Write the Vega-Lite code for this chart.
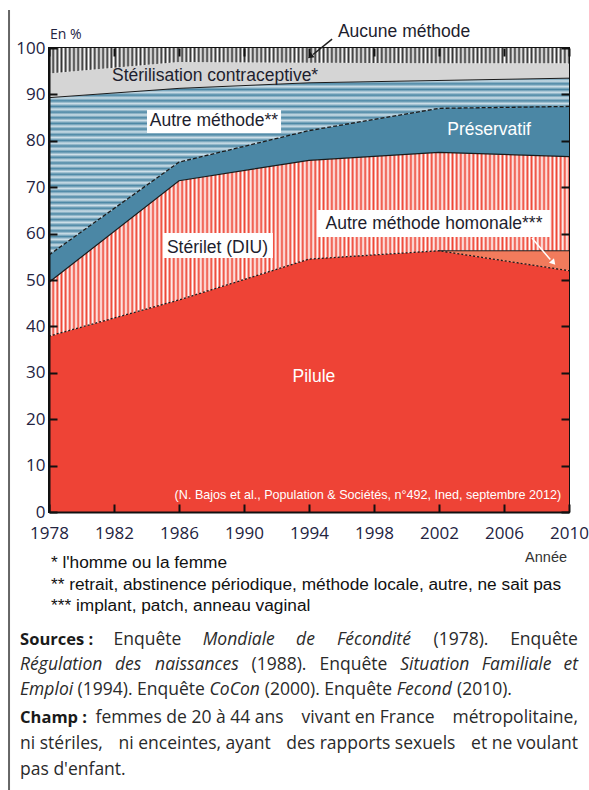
{
"$schema":"https://vega.github.io/schema/vega-lite/v6.json",
"width":520,"height":464,"autosize":"none",
"padding":{"left":49,"top":48,"right":20,"bottom":278},
"background":"white",
"config":{"view":{"stroke":"#111","strokeWidth":2},"text":{"font":"Liberation Sans"}},
"datasets":{"d":[
{"annee":1978,"methode":"Pilule","k":1,"pct":37.9},
{"annee":1978,"methode":"Autre méthode hormonale","k":2,"pct":0},
{"annee":1978,"methode":"Stérilet (DIU)","k":3,"pct":11.6},
{"annee":1978,"methode":"Préservatif","k":4,"pct":5.9},
{"annee":1978,"methode":"Autre méthode","k":5,"pct":33.9},
{"annee":1978,"methode":"Stérilisation contraceptive","k":6,"pct":5.2},
{"annee":1978,"methode":"Aucune méthode","k":7,"pct":5.5},
{"annee":1986,"methode":"Pilule","k":1,"pct":45.7},
{"annee":1986,"methode":"Autre méthode hormonale","k":2,"pct":0},
{"annee":1986,"methode":"Stérilet (DIU)","k":3,"pct":25.7},
{"annee":1986,"methode":"Préservatif","k":4,"pct":4.0},
{"annee":1986,"methode":"Autre méthode","k":5,"pct":15.9},
{"annee":1986,"methode":"Stérilisation contraceptive","k":6,"pct":5.7},
{"annee":1986,"methode":"Aucune méthode","k":7,"pct":3.0},
{"annee":1994,"methode":"Pilule","k":1,"pct":54.5},
{"annee":1994,"methode":"Autre méthode hormonale","k":2,"pct":0},
{"annee":1994,"methode":"Stérilet (DIU)","k":3,"pct":21.3},
{"annee":1994,"methode":"Préservatif","k":4,"pct":6.4},
{"annee":1994,"methode":"Autre méthode","k":5,"pct":10.3},
{"annee":1994,"methode":"Stérilisation contraceptive","k":6,"pct":4.3},
{"annee":1994,"methode":"Aucune méthode","k":7,"pct":3.2},
{"annee":2002,"methode":"Pilule","k":1,"pct":56.3},
{"annee":2002,"methode":"Autre méthode hormonale","k":2,"pct":0},
{"annee":2002,"methode":"Stérilet (DIU)","k":3,"pct":21.2},
{"annee":2002,"methode":"Préservatif","k":4,"pct":9.5},
{"annee":2002,"methode":"Autre méthode","k":5,"pct":6.0},
{"annee":2002,"methode":"Stérilisation contraceptive","k":6,"pct":3.7},
{"annee":2002,"methode":"Aucune méthode","k":7,"pct":3.3},
{"annee":2010,"methode":"Pilule","k":1,"pct":52.0},
{"annee":2010,"methode":"Autre méthode hormonale","k":2,"pct":4.3},
{"annee":2010,"methode":"Stérilet (DIU)","k":3,"pct":20.3},
{"annee":2010,"methode":"Préservatif","k":4,"pct":10.8},
{"annee":2010,"methode":"Autre méthode","k":5,"pct":6.1},
{"annee":2010,"methode":"Stérilisation contraceptive","k":6,"pct":3.2},
{"annee":2010,"methode":"Aucune méthode","k":7,"pct":3.3}
]},
"resolve":{"axis":{"x":"independent","y":"independent"}},
"layer":[
{"data":{"name":"d"},
 "transform":[{"stack":"pct","groupby":["annee"],"sort":[{"field":"k","order":"ascending"}],"as":["y0","y1"]}],
 "encoding":{"x":{"field":"annee","type":"quantitative","scale":{"domain":[1978,2010],"nice":false,"zero":false},"axis":null},
             "y":{"field":"y1","type":"quantitative","scale":{"domain":[0,100],"nice":false},"axis":null}},
 "layer":[
  {"transform":[{"filter":"datum.k==1"}],"mark":{"type":"area","fill":"#ee4336"},"encoding":{"y2":{"field":"y0"}}},
  {"transform":[{"filter":"datum.k==2"}],"mark":{"type":"area","fill":"#f27b5c"},"encoding":{"y2":{"field":"y0"}}},
  {"transform":[{"filter":"datum.k==3"}],"mark":{"type":"area","fill":{"gradient":"linear","x1":0,"y1":0,"x2":1,"y2":0,"stops":[
{"offset":0.000,"color":"#e43"},{"offset":0.004,"color":"#fff"},{"offset":0.008,"color":"#e43"},{"offset":0.012,"color":"#fff"},{"offset":0.016,"color":"#e43"},{"offset":0.020,"color":"#fff"},{"offset":0.024,"color":"#e43"},{"offset":0.028,"color":"#fff"},{"offset":0.032,"color":"#e43"},{"offset":0.036,"color":"#fff"},{"offset":0.040,"color":"#e43"},{"offset":0.044,"color":"#fff"},{"offset":0.048,"color":"#e43"},{"offset":0.052,"color":"#fff"},{"offset":0.056,"color":"#e43"},{"offset":0.060,"color":"#fff"},{"offset":0.064,"color":"#e43"},{"offset":0.068,"color":"#fff"},{"offset":0.072,"color":"#e43"},{"offset":0.076,"color":"#fff"},{"offset":0.080,"color":"#e43"},{"offset":0.084,"color":"#fff"},{"offset":0.088,"color":"#e43"},{"offset":0.092,"color":"#fff"},{"offset":0.096,"color":"#e43"},
{"offset":0.100,"color":"#fff"},{"offset":0.104,"color":"#e43"},{"offset":0.108,"color":"#fff"},{"offset":0.112,"color":"#e43"},{"offset":0.116,"color":"#fff"},{"offset":0.120,"color":"#e43"},{"offset":0.124,"color":"#fff"},{"offset":0.128,"color":"#e43"},{"offset":0.132,"color":"#fff"},{"offset":0.136,"color":"#e43"},{"offset":0.140,"color":"#fff"},{"offset":0.144,"color":"#e43"},{"offset":0.148,"color":"#fff"},{"offset":0.152,"color":"#e43"},{"offset":0.156,"color":"#fff"},{"offset":0.160,"color":"#e43"},{"offset":0.164,"color":"#fff"},{"offset":0.168,"color":"#e43"},{"offset":0.172,"color":"#fff"},{"offset":0.176,"color":"#e43"},{"offset":0.180,"color":"#fff"},{"offset":0.184,"color":"#e43"},{"offset":0.188,"color":"#fff"},{"offset":0.192,"color":"#e43"},{"offset":0.196,"color":"#fff"},
{"offset":0.200,"color":"#e43"},{"offset":0.204,"color":"#fff"},{"offset":0.208,"color":"#e43"},{"offset":0.212,"color":"#fff"},{"offset":0.216,"color":"#e43"},{"offset":0.220,"color":"#fff"},{"offset":0.224,"color":"#e43"},{"offset":0.228,"color":"#fff"},{"offset":0.232,"color":"#e43"},{"offset":0.236,"color":"#fff"},{"offset":0.240,"color":"#e43"},{"offset":0.244,"color":"#fff"},{"offset":0.248,"color":"#e43"},{"offset":0.252,"color":"#fff"},{"offset":0.256,"color":"#e43"},{"offset":0.260,"color":"#fff"},{"offset":0.264,"color":"#e43"},{"offset":0.268,"color":"#fff"},{"offset":0.272,"color":"#e43"},{"offset":0.276,"color":"#fff"},{"offset":0.280,"color":"#e43"},{"offset":0.284,"color":"#fff"},{"offset":0.288,"color":"#e43"},{"offset":0.292,"color":"#fff"},{"offset":0.296,"color":"#e43"},
{"offset":0.300,"color":"#fff"},{"offset":0.304,"color":"#e43"},{"offset":0.308,"color":"#fff"},{"offset":0.312,"color":"#e43"},{"offset":0.316,"color":"#fff"},{"offset":0.320,"color":"#e43"},{"offset":0.324,"color":"#fff"},{"offset":0.328,"color":"#e43"},{"offset":0.332,"color":"#fff"},{"offset":0.336,"color":"#e43"},{"offset":0.340,"color":"#fff"},{"offset":0.344,"color":"#e43"},{"offset":0.348,"color":"#fff"},{"offset":0.352,"color":"#e43"},{"offset":0.356,"color":"#fff"},{"offset":0.360,"color":"#e43"},{"offset":0.364,"color":"#fff"},{"offset":0.368,"color":"#e43"},{"offset":0.372,"color":"#fff"},{"offset":0.376,"color":"#e43"},{"offset":0.380,"color":"#fff"},{"offset":0.384,"color":"#e43"},{"offset":0.388,"color":"#fff"},{"offset":0.392,"color":"#e43"},{"offset":0.396,"color":"#fff"},
{"offset":0.400,"color":"#e43"},{"offset":0.404,"color":"#fff"},{"offset":0.408,"color":"#e43"},{"offset":0.412,"color":"#fff"},{"offset":0.416,"color":"#e43"},{"offset":0.420,"color":"#fff"},{"offset":0.424,"color":"#e43"},{"offset":0.428,"color":"#fff"},{"offset":0.432,"color":"#e43"},{"offset":0.436,"color":"#fff"},{"offset":0.440,"color":"#e43"},{"offset":0.444,"color":"#fff"},{"offset":0.448,"color":"#e43"},{"offset":0.452,"color":"#fff"},{"offset":0.456,"color":"#e43"},{"offset":0.460,"color":"#fff"},{"offset":0.464,"color":"#e43"},{"offset":0.468,"color":"#fff"},{"offset":0.472,"color":"#e43"},{"offset":0.476,"color":"#fff"},{"offset":0.480,"color":"#e43"},{"offset":0.484,"color":"#fff"},{"offset":0.488,"color":"#e43"},{"offset":0.492,"color":"#fff"},{"offset":0.496,"color":"#e43"},
{"offset":0.500,"color":"#fff"},{"offset":0.504,"color":"#e43"},{"offset":0.508,"color":"#fff"},{"offset":0.512,"color":"#e43"},{"offset":0.516,"color":"#fff"},{"offset":0.520,"color":"#e43"},{"offset":0.524,"color":"#fff"},{"offset":0.528,"color":"#e43"},{"offset":0.532,"color":"#fff"},{"offset":0.536,"color":"#e43"},{"offset":0.540,"color":"#fff"},{"offset":0.544,"color":"#e43"},{"offset":0.548,"color":"#fff"},{"offset":0.552,"color":"#e43"},{"offset":0.556,"color":"#fff"},{"offset":0.560,"color":"#e43"},{"offset":0.564,"color":"#fff"},{"offset":0.568,"color":"#e43"},{"offset":0.572,"color":"#fff"},{"offset":0.576,"color":"#e43"},{"offset":0.580,"color":"#fff"},{"offset":0.584,"color":"#e43"},{"offset":0.588,"color":"#fff"},{"offset":0.592,"color":"#e43"},{"offset":0.596,"color":"#fff"},
{"offset":0.600,"color":"#e43"},{"offset":0.604,"color":"#fff"},{"offset":0.608,"color":"#e43"},{"offset":0.612,"color":"#fff"},{"offset":0.616,"color":"#e43"},{"offset":0.620,"color":"#fff"},{"offset":0.624,"color":"#e43"},{"offset":0.628,"color":"#fff"},{"offset":0.632,"color":"#e43"},{"offset":0.636,"color":"#fff"},{"offset":0.640,"color":"#e43"},{"offset":0.644,"color":"#fff"},{"offset":0.648,"color":"#e43"},{"offset":0.652,"color":"#fff"},{"offset":0.656,"color":"#e43"},{"offset":0.660,"color":"#fff"},{"offset":0.664,"color":"#e43"},{"offset":0.668,"color":"#fff"},{"offset":0.672,"color":"#e43"},{"offset":0.676,"color":"#fff"},{"offset":0.680,"color":"#e43"},{"offset":0.684,"color":"#fff"},{"offset":0.688,"color":"#e43"},{"offset":0.692,"color":"#fff"},{"offset":0.696,"color":"#e43"},
{"offset":0.700,"color":"#fff"},{"offset":0.704,"color":"#e43"},{"offset":0.708,"color":"#fff"},{"offset":0.712,"color":"#e43"},{"offset":0.716,"color":"#fff"},{"offset":0.720,"color":"#e43"},{"offset":0.724,"color":"#fff"},{"offset":0.728,"color":"#e43"},{"offset":0.732,"color":"#fff"},{"offset":0.736,"color":"#e43"},{"offset":0.740,"color":"#fff"},{"offset":0.744,"color":"#e43"},{"offset":0.748,"color":"#fff"},{"offset":0.752,"color":"#e43"},{"offset":0.756,"color":"#fff"},{"offset":0.760,"color":"#e43"},{"offset":0.764,"color":"#fff"},{"offset":0.768,"color":"#e43"},{"offset":0.772,"color":"#fff"},{"offset":0.776,"color":"#e43"},{"offset":0.780,"color":"#fff"},{"offset":0.784,"color":"#e43"},{"offset":0.788,"color":"#fff"},{"offset":0.792,"color":"#e43"},{"offset":0.796,"color":"#fff"},
{"offset":0.800,"color":"#e43"},{"offset":0.804,"color":"#fff"},{"offset":0.808,"color":"#e43"},{"offset":0.812,"color":"#fff"},{"offset":0.816,"color":"#e43"},{"offset":0.820,"color":"#fff"},{"offset":0.824,"color":"#e43"},{"offset":0.828,"color":"#fff"},{"offset":0.832,"color":"#e43"},{"offset":0.836,"color":"#fff"},{"offset":0.840,"color":"#e43"},{"offset":0.844,"color":"#fff"},{"offset":0.848,"color":"#e43"},{"offset":0.852,"color":"#fff"},{"offset":0.856,"color":"#e43"},{"offset":0.860,"color":"#fff"},{"offset":0.864,"color":"#e43"},{"offset":0.868,"color":"#fff"},{"offset":0.872,"color":"#e43"},{"offset":0.876,"color":"#fff"},{"offset":0.880,"color":"#e43"},{"offset":0.884,"color":"#fff"},{"offset":0.888,"color":"#e43"},{"offset":0.892,"color":"#fff"},{"offset":0.896,"color":"#e43"},
{"offset":0.900,"color":"#fff"},{"offset":0.904,"color":"#e43"},{"offset":0.908,"color":"#fff"},{"offset":0.912,"color":"#e43"},{"offset":0.916,"color":"#fff"},{"offset":0.920,"color":"#e43"},{"offset":0.924,"color":"#fff"},{"offset":0.928,"color":"#e43"},{"offset":0.932,"color":"#fff"},{"offset":0.936,"color":"#e43"},{"offset":0.940,"color":"#fff"},{"offset":0.944,"color":"#e43"},{"offset":0.948,"color":"#fff"},{"offset":0.952,"color":"#e43"},{"offset":0.956,"color":"#fff"},{"offset":0.960,"color":"#e43"},{"offset":0.964,"color":"#fff"},{"offset":0.968,"color":"#e43"},{"offset":0.972,"color":"#fff"},{"offset":0.976,"color":"#e43"},{"offset":0.980,"color":"#fff"},{"offset":0.984,"color":"#e43"},{"offset":0.988,"color":"#fff"},{"offset":0.992,"color":"#e43"},{"offset":0.996,"color":"#fff"},
{"offset":1,"color":"#e43"}]}},"encoding":{"y2":{"field":"y0"}}},
  {"transform":[{"filter":"datum.k==4"}],"mark":{"type":"area","fill":"#4b87a5"},"encoding":{"y2":{"field":"y0"}}},
  {"transform":[{"filter":"datum.k==5"}],"mark":{"type":"area","fill":{"gradient":"linear","x1":0,"y1":0,"x2":0,"y2":1,"stops":[
{"offset":0,"color":"#4a86a4"},{"offset":0.016,"color":"#cfe0e9"},{"offset":0.032,"color":"#4a86a4"},{"offset":0.048,"color":"#cfe0e9"},{"offset":0.064,"color":"#4a86a4"},{"offset":0.08,"color":"#cfe0e9"},{"offset":0.096,"color":"#4a86a4"},{"offset":0.112,"color":"#cfe0e9"},{"offset":0.128,"color":"#4a86a4"},{"offset":0.144,"color":"#cfe0e9"},{"offset":0.16,"color":"#4a86a4"},{"offset":0.176,"color":"#cfe0e9"},{"offset":0.192,"color":"#4a86a4"},{"offset":0.208,"color":"#cfe0e9"},{"offset":0.224,"color":"#4a86a4"},{"offset":0.24,"color":"#cfe0e9"},{"offset":0.256,"color":"#4a86a4"},{"offset":0.272,"color":"#cfe0e9"},{"offset":0.288,"color":"#4a86a4"},{"offset":0.304,"color":"#cfe0e9"},{"offset":0.32,"color":"#4a86a4"},{"offset":0.336,"color":"#cfe0e9"},{"offset":0.352,"color":"#4a86a4"},{"offset":0.368,"color":"#cfe0e9"},{"offset":0.384,"color":"#4a86a4"},{"offset":0.4,"color":"#cfe0e9"},{"offset":0.416,"color":"#4a86a4"},{"offset":0.432,"color":"#cfe0e9"},{"offset":0.448,"color":"#4a86a4"},{"offset":0.464,"color":"#cfe0e9"},{"offset":0.48,"color":"#4a86a4"},{"offset":0.496,"color":"#cfe0e9"},{"offset":0.512,"color":"#4a86a4"},{"offset":0.528,"color":"#cfe0e9"},{"offset":0.544,"color":"#4a86a4"},{"offset":0.56,"color":"#cfe0e9"},{"offset":0.576,"color":"#4a86a4"},{"offset":0.592,"color":"#cfe0e9"},{"offset":0.608,"color":"#4a86a4"},{"offset":0.624,"color":"#cfe0e9"},{"offset":0.64,"color":"#4a86a4"},{"offset":0.656,"color":"#cfe0e9"},{"offset":0.672,"color":"#4a86a4"},{"offset":0.688,"color":"#cfe0e9"},{"offset":0.704,"color":"#4a86a4"},{"offset":0.72,"color":"#cfe0e9"},{"offset":0.736,"color":"#4a86a4"},{"offset":0.752,"color":"#cfe0e9"},{"offset":0.768,"color":"#4a86a4"},{"offset":0.784,"color":"#cfe0e9"},{"offset":0.8,"color":"#4a86a4"},{"offset":0.816,"color":"#cfe0e9"},{"offset":0.832,"color":"#4a86a4"},{"offset":0.848,"color":"#cfe0e9"},{"offset":0.864,"color":"#4a86a4"},{"offset":0.88,"color":"#cfe0e9"},{"offset":0.896,"color":"#4a86a4"},{"offset":0.912,"color":"#cfe0e9"},{"offset":0.928,"color":"#4a86a4"},{"offset":0.944,"color":"#cfe0e9"},{"offset":0.96,"color":"#4a86a4"},{"offset":0.976,"color":"#cfe0e9"},{"offset":0.992,"color":"#4a86a4"},{"offset":1,"color":"#4a86a4"}]}},"encoding":{"y2":{"field":"y0"}}},
  {"transform":[{"filter":"datum.k==6"}],"mark":{"type":"area","fill":"#d5d5d5"},"encoding":{"y2":{"field":"y0"}}},
  {"transform":[{"filter":"datum.k==7"}],"mark":{"type":"area","fill":{"gradient":"linear","x1":0,"y1":0,"x2":1,"y2":0,"stops":[
{"offset":0.000,"color":"#333"},{"offset":0.004,"color":"#fff"},{"offset":0.008,"color":"#333"},{"offset":0.012,"color":"#fff"},{"offset":0.016,"color":"#333"},{"offset":0.020,"color":"#fff"},{"offset":0.024,"color":"#333"},{"offset":0.028,"color":"#fff"},{"offset":0.032,"color":"#333"},{"offset":0.036,"color":"#fff"},{"offset":0.040,"color":"#333"},{"offset":0.044,"color":"#fff"},{"offset":0.048,"color":"#333"},{"offset":0.052,"color":"#fff"},{"offset":0.056,"color":"#333"},{"offset":0.060,"color":"#fff"},{"offset":0.064,"color":"#333"},{"offset":0.068,"color":"#fff"},{"offset":0.072,"color":"#333"},{"offset":0.076,"color":"#fff"},{"offset":0.080,"color":"#333"},{"offset":0.084,"color":"#fff"},{"offset":0.088,"color":"#333"},{"offset":0.092,"color":"#fff"},{"offset":0.096,"color":"#333"},
{"offset":0.100,"color":"#fff"},{"offset":0.104,"color":"#333"},{"offset":0.108,"color":"#fff"},{"offset":0.112,"color":"#333"},{"offset":0.116,"color":"#fff"},{"offset":0.120,"color":"#333"},{"offset":0.124,"color":"#fff"},{"offset":0.128,"color":"#333"},{"offset":0.132,"color":"#fff"},{"offset":0.136,"color":"#333"},{"offset":0.140,"color":"#fff"},{"offset":0.144,"color":"#333"},{"offset":0.148,"color":"#fff"},{"offset":0.152,"color":"#333"},{"offset":0.156,"color":"#fff"},{"offset":0.160,"color":"#333"},{"offset":0.164,"color":"#fff"},{"offset":0.168,"color":"#333"},{"offset":0.172,"color":"#fff"},{"offset":0.176,"color":"#333"},{"offset":0.180,"color":"#fff"},{"offset":0.184,"color":"#333"},{"offset":0.188,"color":"#fff"},{"offset":0.192,"color":"#333"},{"offset":0.196,"color":"#fff"},
{"offset":0.200,"color":"#333"},{"offset":0.204,"color":"#fff"},{"offset":0.208,"color":"#333"},{"offset":0.212,"color":"#fff"},{"offset":0.216,"color":"#333"},{"offset":0.220,"color":"#fff"},{"offset":0.224,"color":"#333"},{"offset":0.228,"color":"#fff"},{"offset":0.232,"color":"#333"},{"offset":0.236,"color":"#fff"},{"offset":0.240,"color":"#333"},{"offset":0.244,"color":"#fff"},{"offset":0.248,"color":"#333"},{"offset":0.252,"color":"#fff"},{"offset":0.256,"color":"#333"},{"offset":0.260,"color":"#fff"},{"offset":0.264,"color":"#333"},{"offset":0.268,"color":"#fff"},{"offset":0.272,"color":"#333"},{"offset":0.276,"color":"#fff"},{"offset":0.280,"color":"#333"},{"offset":0.284,"color":"#fff"},{"offset":0.288,"color":"#333"},{"offset":0.292,"color":"#fff"},{"offset":0.296,"color":"#333"},
{"offset":0.300,"color":"#fff"},{"offset":0.304,"color":"#333"},{"offset":0.308,"color":"#fff"},{"offset":0.312,"color":"#333"},{"offset":0.316,"color":"#fff"},{"offset":0.320,"color":"#333"},{"offset":0.324,"color":"#fff"},{"offset":0.328,"color":"#333"},{"offset":0.332,"color":"#fff"},{"offset":0.336,"color":"#333"},{"offset":0.340,"color":"#fff"},{"offset":0.344,"color":"#333"},{"offset":0.348,"color":"#fff"},{"offset":0.352,"color":"#333"},{"offset":0.356,"color":"#fff"},{"offset":0.360,"color":"#333"},{"offset":0.364,"color":"#fff"},{"offset":0.368,"color":"#333"},{"offset":0.372,"color":"#fff"},{"offset":0.376,"color":"#333"},{"offset":0.380,"color":"#fff"},{"offset":0.384,"color":"#333"},{"offset":0.388,"color":"#fff"},{"offset":0.392,"color":"#333"},{"offset":0.396,"color":"#fff"},
{"offset":0.400,"color":"#333"},{"offset":0.404,"color":"#fff"},{"offset":0.408,"color":"#333"},{"offset":0.412,"color":"#fff"},{"offset":0.416,"color":"#333"},{"offset":0.420,"color":"#fff"},{"offset":0.424,"color":"#333"},{"offset":0.428,"color":"#fff"},{"offset":0.432,"color":"#333"},{"offset":0.436,"color":"#fff"},{"offset":0.440,"color":"#333"},{"offset":0.444,"color":"#fff"},{"offset":0.448,"color":"#333"},{"offset":0.452,"color":"#fff"},{"offset":0.456,"color":"#333"},{"offset":0.460,"color":"#fff"},{"offset":0.464,"color":"#333"},{"offset":0.468,"color":"#fff"},{"offset":0.472,"color":"#333"},{"offset":0.476,"color":"#fff"},{"offset":0.480,"color":"#333"},{"offset":0.484,"color":"#fff"},{"offset":0.488,"color":"#333"},{"offset":0.492,"color":"#fff"},{"offset":0.496,"color":"#333"},
{"offset":0.500,"color":"#fff"},{"offset":0.504,"color":"#333"},{"offset":0.508,"color":"#fff"},{"offset":0.512,"color":"#333"},{"offset":0.516,"color":"#fff"},{"offset":0.520,"color":"#333"},{"offset":0.524,"color":"#fff"},{"offset":0.528,"color":"#333"},{"offset":0.532,"color":"#fff"},{"offset":0.536,"color":"#333"},{"offset":0.540,"color":"#fff"},{"offset":0.544,"color":"#333"},{"offset":0.548,"color":"#fff"},{"offset":0.552,"color":"#333"},{"offset":0.556,"color":"#fff"},{"offset":0.560,"color":"#333"},{"offset":0.564,"color":"#fff"},{"offset":0.568,"color":"#333"},{"offset":0.572,"color":"#fff"},{"offset":0.576,"color":"#333"},{"offset":0.580,"color":"#fff"},{"offset":0.584,"color":"#333"},{"offset":0.588,"color":"#fff"},{"offset":0.592,"color":"#333"},{"offset":0.596,"color":"#fff"},
{"offset":0.600,"color":"#333"},{"offset":0.604,"color":"#fff"},{"offset":0.608,"color":"#333"},{"offset":0.612,"color":"#fff"},{"offset":0.616,"color":"#333"},{"offset":0.620,"color":"#fff"},{"offset":0.624,"color":"#333"},{"offset":0.628,"color":"#fff"},{"offset":0.632,"color":"#333"},{"offset":0.636,"color":"#fff"},{"offset":0.640,"color":"#333"},{"offset":0.644,"color":"#fff"},{"offset":0.648,"color":"#333"},{"offset":0.652,"color":"#fff"},{"offset":0.656,"color":"#333"},{"offset":0.660,"color":"#fff"},{"offset":0.664,"color":"#333"},{"offset":0.668,"color":"#fff"},{"offset":0.672,"color":"#333"},{"offset":0.676,"color":"#fff"},{"offset":0.680,"color":"#333"},{"offset":0.684,"color":"#fff"},{"offset":0.688,"color":"#333"},{"offset":0.692,"color":"#fff"},{"offset":0.696,"color":"#333"},
{"offset":0.700,"color":"#fff"},{"offset":0.704,"color":"#333"},{"offset":0.708,"color":"#fff"},{"offset":0.712,"color":"#333"},{"offset":0.716,"color":"#fff"},{"offset":0.720,"color":"#333"},{"offset":0.724,"color":"#fff"},{"offset":0.728,"color":"#333"},{"offset":0.732,"color":"#fff"},{"offset":0.736,"color":"#333"},{"offset":0.740,"color":"#fff"},{"offset":0.744,"color":"#333"},{"offset":0.748,"color":"#fff"},{"offset":0.752,"color":"#333"},{"offset":0.756,"color":"#fff"},{"offset":0.760,"color":"#333"},{"offset":0.764,"color":"#fff"},{"offset":0.768,"color":"#333"},{"offset":0.772,"color":"#fff"},{"offset":0.776,"color":"#333"},{"offset":0.780,"color":"#fff"},{"offset":0.784,"color":"#333"},{"offset":0.788,"color":"#fff"},{"offset":0.792,"color":"#333"},{"offset":0.796,"color":"#fff"},
{"offset":0.800,"color":"#333"},{"offset":0.804,"color":"#fff"},{"offset":0.808,"color":"#333"},{"offset":0.812,"color":"#fff"},{"offset":0.816,"color":"#333"},{"offset":0.820,"color":"#fff"},{"offset":0.824,"color":"#333"},{"offset":0.828,"color":"#fff"},{"offset":0.832,"color":"#333"},{"offset":0.836,"color":"#fff"},{"offset":0.840,"color":"#333"},{"offset":0.844,"color":"#fff"},{"offset":0.848,"color":"#333"},{"offset":0.852,"color":"#fff"},{"offset":0.856,"color":"#333"},{"offset":0.860,"color":"#fff"},{"offset":0.864,"color":"#333"},{"offset":0.868,"color":"#fff"},{"offset":0.872,"color":"#333"},{"offset":0.876,"color":"#fff"},{"offset":0.880,"color":"#333"},{"offset":0.884,"color":"#fff"},{"offset":0.888,"color":"#333"},{"offset":0.892,"color":"#fff"},{"offset":0.896,"color":"#333"},
{"offset":0.900,"color":"#fff"},{"offset":0.904,"color":"#333"},{"offset":0.908,"color":"#fff"},{"offset":0.912,"color":"#333"},{"offset":0.916,"color":"#fff"},{"offset":0.920,"color":"#333"},{"offset":0.924,"color":"#fff"},{"offset":0.928,"color":"#333"},{"offset":0.932,"color":"#fff"},{"offset":0.936,"color":"#333"},{"offset":0.940,"color":"#fff"},{"offset":0.944,"color":"#333"},{"offset":0.948,"color":"#fff"},{"offset":0.952,"color":"#333"},{"offset":0.956,"color":"#fff"},{"offset":0.960,"color":"#333"},{"offset":0.964,"color":"#fff"},{"offset":0.968,"color":"#333"},{"offset":0.972,"color":"#fff"},{"offset":0.976,"color":"#333"},{"offset":0.980,"color":"#fff"},{"offset":0.984,"color":"#333"},{"offset":0.988,"color":"#fff"},{"offset":0.992,"color":"#333"},{"offset":0.996,"color":"#fff"},
{"offset":1,"color":"#333"}]}},"encoding":{"y2":{"field":"y0"}}},
  {"transform":[{"filter":"datum.k==1"}],"mark":{"type":"line","color":"#1a1a1a","strokeWidth":1.3,"strokeDash":[2,2]}},
  {"transform":[{"filter":"datum.k==2 && datum.annee>=2002"}],"mark":{"type":"line","color":"#1a1a1a","strokeWidth":1}},
  {"transform":[{"filter":"datum.k==3"}],"mark":{"type":"line","color":"#1a1a1a","strokeWidth":1.2}},
  {"transform":[{"filter":"datum.k==4"}],"mark":{"type":"line","color":"#1a1a1a","strokeWidth":1.3,"strokeDash":[4,2]}},
  {"transform":[{"filter":"datum.k==5"}],"mark":{"type":"line","color":"#1a1a1a","strokeWidth":1}}
 ]},
{"data":{"name":"d"},"mark":{"type":"point","opacity":0},
 "encoding":{"x":{"field":"annee","type":"quantitative","scale":{"domain":[1978,2010],"nice":false,"zero":false},
   "axis":{"orient":"bottom","values":[1978,1982,1986,1990,1994,1998,2002,2006,2010],"format":"d","title":null,"grid":false,"domainColor":"#111","domainWidth":2,"tickColor":"#111","tickWidth":2,"tickSize":-8,"labelFont":"Open Sans","labelFontSize":17,"labelColor":"#23233f","labelPadding":21,"labelFlush":false,"labelOverlap":false,"zindex":1}},
  "y":{"field":"pct","type":"quantitative","scale":{"domain":[0,100],"nice":false},
   "axis":{"orient":"left","values":[0,10,20,30,40,50,60,70,80,90,100],"title":null,"grid":false,"domainColor":"#111","domainWidth":2,"tickColor":"#111","tickWidth":2,"tickSize":-8,"labelFont":"Open Sans","labelFontSize":17,"labelColor":"#23233f","labelPadding":12,"labelFlush":false,"labelOverlap":false,"zindex":1}}}},
{"data":{"name":"d"},"mark":{"type":"point","opacity":0},
 "encoding":{"x":{"field":"annee","type":"quantitative","scale":{"domain":[1978,2010],"nice":false,"zero":false},
   "axis":{"orient":"top","values":[1978,1982,1986,1990,1994,1998,2002,2006,2010],"labels":false,"domain":false,"title":null,"grid":false,"tickColor":"#111","tickWidth":2,"tickSize":-8,"zindex":1}},
  "y":{"field":"pct","type":"quantitative","scale":{"domain":[0,100],"nice":false},
   "axis":{"orient":"right","values":[0,10,20,30,40,50,60,70,80,90,100],"labels":false,"domain":false,"title":null,"grid":false,"tickColor":"#111","tickWidth":2,"tickSize":-8,"zindex":1}}}},
{"data":{"values":[{}]},"mark":{"type":"rect","fill":"white"},"encoding":{"x":{"datum":1984.03,"axis":null},"x2":{"datum":1992.28},"y":{"datum":86.64,"axis":null},"y2":{"datum":81.68}}},
{"data":{"values":[{}]},"mark":{"type":"rect","fill":"white"},"encoding":{"x":{"datum":1985.02,"axis":null},"x2":{"datum":1991.78},"y":{"datum":60.13,"axis":null},"y2":{"datum":54.74}}},
{"data":{"values":[{}]},"mark":{"type":"rect","fill":"white"},"encoding":{"x":{"datum":1994.49,"axis":null},"x2":{"datum":2008.83},"y":{"datum":65.09,"axis":null},"y2":{"datum":59.27}}},
{"data":{"values":[{}]},"mark":{"type":"text","text":"Aucune méthode","align":"left","baseline":"alphabetic","fontSize":17.5,"fill":"#1e1e2e"},"encoding":{"x":{"datum":1995.78,"axis":null},"y":{"datum":102.4,"axis":null}}},
{"data":{"values":[{}]},"mark":{"type":"rule","color":"#1e1e1e","strokeWidth":1.5},"encoding":{"x":{"datum":1995.42,"axis":null},"x2":{"datum":1994.25},"y":{"datum":101.9,"axis":null},"y2":{"datum":98.6}}},
{"data":{"values":[{}]},"mark":{"type":"point","shape":"triangle","filled":true,"color":"#1e1e1e","opacity":1,"size":45,"angle":231},"encoding":{"x":{"datum":1994.12,"axis":null},"y":{"datum":98.3,"axis":null}}},
{"data":{"values":[{}]},"mark":{"type":"text","text":"Stérilisation contraceptive*","align":"center","baseline":"alphabetic","fontSize":17.5,"fill":"#1e1e2e"},"encoding":{"x":{"datum":1988.22,"axis":null},"y":{"datum":92.89,"axis":null}}},
{"data":{"values":[{}]},"mark":{"type":"text","text":"Autre méthode**","align":"center","baseline":"alphabetic","fontSize":17.5,"fill":"#1e1e2e"},"encoding":{"x":{"datum":1988.15,"axis":null},"y":{"datum":83.19,"axis":null}}},
{"data":{"values":[{}]},"mark":{"type":"text","text":"Préservatif","align":"center","baseline":"alphabetic","fontSize":17.5,"fill":"white"},"encoding":{"x":{"datum":2005.08,"axis":null},"y":{"datum":81.25,"axis":null}}},
{"data":{"values":[{}]},"mark":{"type":"text","text":"Stérilet (DIU)","align":"center","baseline":"alphabetic","fontSize":17.5,"fill":"#1e1e2e"},"encoding":{"x":{"datum":1988.37,"axis":null},"y":{"datum":55.88,"axis":null}}},
{"data":{"values":[{}]},"mark":{"type":"text","text":"Autre méthode homonale***","align":"center","baseline":"alphabetic","fontSize":17.5,"fill":"#1e1e2e"},"encoding":{"x":{"datum":2001.69,"axis":null},"y":{"datum":60.93,"axis":null}}},
{"data":{"values":[{}]},"mark":{"type":"rule","color":"white","strokeWidth":1.5},"encoding":{"x":{"datum":2007.72,"axis":null},"x2":{"datum":2008.85},"y":{"datum":59.05,"axis":null},"y2":{"datum":54.4}}},
{"data":{"values":[{}]},"mark":{"type":"point","shape":"triangle","filled":true,"color":"white","opacity":1,"size":45,"angle":139},"encoding":{"x":{"datum":2009.0,"axis":null},"y":{"datum":53.9,"axis":null}}},
{"data":{"values":[{}]},"mark":{"type":"text","text":"Pilule","align":"center","baseline":"middle","fontSize":17.5,"fill":"white"},"encoding":{"x":{"datum":1994.3,"axis":null},"y":{"datum":29.0,"axis":null}}},
{"data":{"values":[{}]},"mark":{"type":"text","text":"(N. Bajos et al., Population & Sociétés, n°492, Ined, septembre 2012)","align":"right","baseline":"alphabetic","fontSize":12.6,"fill":"white"},"encoding":{"x":{"datum":2009.52,"axis":null},"y":{"datum":2.8,"axis":null}}},
{"data":{"values":[{}]},"mark":{"type":"text","text":"En %","align":"left","baseline":"middle","font":"Open Sans","fontSize":14,"fill":"#23233f"},"encoding":{"x":{"datum":1978.06,"axis":null},"y":{"datum":102.8,"axis":null}}},
{"data":{"values":[{}]},"mark":{"type":"text","text":"Année","align":"right","baseline":"middle","fontSize":14.5,"fill":"#333"},"encoding":{"x":{"datum":2009.88,"axis":null},"y":{"datum":-9.91,"axis":null}}},
{"data":{"values":[{}]},"mark":{"type":"text","text":"* l'homme ou la femme","align":"left","baseline":"middle","fontSize":17.3,"fill":"#111"},"encoding":{"x":{"datum":1978.12,"axis":null},"y":{"datum":-10.99,"axis":null}}},
{"data":{"values":[{}]},"mark":{"type":"text","text":"** retrait, abstinence périodique, méthode locale, autre, ne sait pas","align":"left","baseline":"middle","fontSize":17.3,"fill":"#111"},"encoding":{"x":{"datum":1978.12,"axis":null},"y":{"datum":-15.73,"axis":null}}},
{"data":{"values":[{}]},"mark":{"type":"text","text":"*** implant, patch, anneau vaginal","align":"left","baseline":"middle","fontSize":17.3,"fill":"#111"},"encoding":{"x":{"datum":1978.12,"axis":null},"y":{"datum":-20.26,"axis":null}}},
{"data":{"values":[{}]},"mark":{"type":"text","text":"Sources :","align":"left","baseline":"middle","font":"Open Sans","fontWeight":"bold","fontSize":16.5,"fill":"#1a1a1a"},"encoding":{"x":{"datum":1976.22,"axis":null},"y":{"datum":-27.59,"axis":null}}},
{"data":{"values":[{}]},"mark":{"type":"text","text":"Enquête","align":"left","baseline":"middle","font":"Open Sans","fontSize":17.5,"fill":"#2a2a2a"},"encoding":{"x":{"datum":1981.969,"axis":null},"y":{"datum":-27.59,"axis":null}}},
{"data":{"values":[{}]},"mark":{"type":"text","text":"Mondiale","align":"left","baseline":"middle","font":"Open Sans","fontStyle":"italic","fontSize":17.5,"fill":"#2a2a2a"},"encoding":{"x":{"datum":1987.458,"axis":null},"y":{"datum":-27.59,"axis":null}}},
{"data":{"values":[{}]},"mark":{"type":"text","text":"de","align":"left","baseline":"middle","font":"Open Sans","fontStyle":"italic","fontSize":17.5,"fill":"#2a2a2a"},"encoding":{"x":{"datum":1993.206,"axis":null},"y":{"datum":-27.59,"axis":null}}},
{"data":{"values":[{}]},"mark":{"type":"text","text":"Fécondité","align":"left","baseline":"middle","font":"Open Sans","fontStyle":"italic","fontSize":17.5,"fill":"#2a2a2a"},"encoding":{"x":{"datum":1995.717,"axis":null},"y":{"datum":-27.59,"axis":null}}},
{"data":{"values":[{}]},"mark":{"type":"text","text":"(1978).","align":"left","baseline":"middle","font":"Open Sans","fontSize":17.5,"fill":"#2a2a2a"},"encoding":{"x":{"datum":2001.662,"axis":null},"y":{"datum":-27.59,"axis":null}}},
{"data":{"values":[{}]},"mark":{"type":"text","text":"Enquête","align":"right","baseline":"middle","font":"Open Sans","fontSize":17.5,"fill":"#2a2a2a"},"encoding":{"x":{"datum":2010.55,"axis":null},"y":{"datum":-27.59,"axis":null}}},
{"data":{"values":[{}]},"mark":{"type":"text","text":"Régulation","align":"left","baseline":"middle","font":"Open Sans","fontStyle":"italic","fontSize":17.5,"fill":"#2a2a2a"},"encoding":{"x":{"datum":1976.22,"axis":null},"y":{"datum":-32.97,"axis":null}}},
{"data":{"values":[{}]},"mark":{"type":"text","text":"des","align":"left","baseline":"middle","font":"Open Sans","fontStyle":"italic","fontSize":17.5,"fill":"#2a2a2a"},"encoding":{"x":{"datum":1982.055,"axis":null},"y":{"datum":-32.97,"axis":null}}},
{"data":{"values":[{}]},"mark":{"type":"text","text":"naissances","align":"left","baseline":"middle","font":"Open Sans","fontStyle":"italic","fontSize":17.5,"fill":"#2a2a2a"},"encoding":{"x":{"datum":1984.529,"axis":null},"y":{"datum":-32.97,"axis":null}}},
{"data":{"values":[{}]},"mark":{"type":"text","text":"(1988).","align":"left","baseline":"middle","font":"Open Sans","fontSize":17.5,"fill":"#2a2a2a"},"encoding":{"x":{"datum":1990.462,"axis":null},"y":{"datum":-32.97,"axis":null}}},
{"data":{"values":[{}]},"mark":{"type":"text","text":"Enquête","align":"left","baseline":"middle","font":"Open Sans","fontSize":17.5,"fill":"#2a2a2a"},"encoding":{"x":{"datum":1994.652,"axis":null},"y":{"datum":-32.97,"axis":null}}},
{"data":{"values":[{}]},"mark":{"type":"text","text":"Situation","align":"left","baseline":"middle","font":"Open Sans","fontStyle":"italic","fontSize":17.5,"fill":"#2a2a2a"},"encoding":{"x":{"datum":1999.618,"axis":null},"y":{"datum":-32.97,"axis":null}}},
{"data":{"values":[{}]},"mark":{"type":"text","text":"Familiale","align":"left","baseline":"middle","font":"Open Sans","fontStyle":"italic","fontSize":17.5,"fill":"#2a2a2a"},"encoding":{"x":{"datum":2004.628,"axis":null},"y":{"datum":-32.97,"axis":null}}},
{"data":{"values":[{}]},"mark":{"type":"text","text":"et","align":"right","baseline":"middle","font":"Open Sans","fontStyle":"italic","fontSize":17.5,"fill":"#2a2a2a"},"encoding":{"x":{"datum":2010.55,"axis":null},"y":{"datum":-32.97,"axis":null}}},
{"data":{"values":[{}]},"mark":{"type":"text","text":"Emploi","align":"left","baseline":"middle","font":"Open Sans","fontStyle":"italic","fontSize":17.5,"fill":"#2a2a2a"},"encoding":{"x":{"datum":1976.22,"axis":null},"y":{"datum":-38.36,"axis":null}}},
{"data":{"values":[{}]},"mark":{"type":"text","text":"(1994). Enquête","align":"left","baseline":"middle","font":"Open Sans","fontSize":17.5,"fill":"#2a2a2a"},"encoding":{"x":{"datum":1979.76,"axis":null},"y":{"datum":-38.36,"axis":null}}},
{"data":{"values":[{}]},"mark":{"type":"text","text":"CoCon","align":"left","baseline":"middle","font":"Open Sans","fontStyle":"italic","fontSize":17.5,"fill":"#2a2a2a"},"encoding":{"x":{"datum":1987.877,"axis":null},"y":{"datum":-38.36,"axis":null}}},
{"data":{"values":[{}]},"mark":{"type":"text","text":"(2000). Enquête","align":"left","baseline":"middle","font":"Open Sans","fontSize":17.5,"fill":"#2a2a2a"},"encoding":{"x":{"datum":1991.28,"axis":null},"y":{"datum":-38.36,"axis":null}}},
{"data":{"values":[{}]},"mark":{"type":"text","text":"Fecond","align":"left","baseline":"middle","font":"Open Sans","fontStyle":"italic","fontSize":17.5,"fill":"#2a2a2a"},"encoding":{"x":{"datum":1999.397,"axis":null},"y":{"datum":-38.36,"axis":null}}},
{"data":{"values":[{}]},"mark":{"type":"text","text":"(2010).","align":"left","baseline":"middle","font":"Open Sans","fontSize":17.5,"fill":"#2a2a2a"},"encoding":{"x":{"datum":2003.108,"axis":null},"y":{"datum":-38.36,"axis":null}}},
{"data":{"values":[{}]},"mark":{"type":"text","text":"Champ :","align":"left","baseline":"middle","font":"Open Sans","fontWeight":"bold","fontSize":16.5,"fill":"#1a1a1a"},"encoding":{"x":{"datum":1976.22,"axis":null},"y":{"datum":-44.4,"axis":null}}},
{"data":{"values":[{}]},"mark":{"type":"text","text":"femmes de 20 à 44 ans","align":"left","baseline":"middle","font":"Open Sans","fontSize":17.5,"fill":"#2a2a2a"},"encoding":{"x":{"datum":1980.862,"axis":null},"y":{"datum":-44.4,"axis":null}}},
{"data":{"values":[{}]},"mark":{"type":"text","text":"vivant en France","align":"left","baseline":"middle","font":"Open Sans","fontSize":17.5,"fill":"#2a2a2a"},"encoding":{"x":{"datum":1993.54,"axis":null},"y":{"datum":-44.4,"axis":null}}},
{"data":{"values":[{}]},"mark":{"type":"text","text":"métropolitaine,","align":"right","baseline":"middle","font":"Open Sans","fontSize":17.5,"fill":"#2a2a2a"},"encoding":{"x":{"datum":2010.55,"axis":null},"y":{"datum":-44.4,"axis":null}}},
{"data":{"values":[{}]},"mark":{"type":"text","text":"ni stériles,","align":"left","baseline":"middle","font":"Open Sans","fontSize":17.5,"fill":"#2a2a2a"},"encoding":{"x":{"datum":1976.22,"axis":null},"y":{"datum":-50.0,"axis":null}}},
{"data":{"values":[{}]},"mark":{"type":"text","text":"ni enceintes, ayant","align":"left","baseline":"middle","font":"Open Sans","fontSize":17.5,"fill":"#2a2a2a"},"encoding":{"x":{"datum":1982.277,"axis":null},"y":{"datum":-50.0,"axis":null}}},
{"data":{"values":[{}]},"mark":{"type":"text","text":"des rapports sexuels","align":"left","baseline":"middle","font":"Open Sans","fontSize":17.5,"fill":"#2a2a2a"},"encoding":{"x":{"datum":1992.603,"axis":null},"y":{"datum":-50.0,"axis":null}}},
{"data":{"values":[{}]},"mark":{"type":"text","text":"et ne voulant","align":"right","baseline":"middle","font":"Open Sans","fontSize":17.5,"fill":"#2a2a2a"},"encoding":{"x":{"datum":2010.55,"axis":null},"y":{"datum":-50.0,"axis":null}}},
{"data":{"values":[{}]},"mark":{"type":"text","text":"pas d'enfant.","align":"left","baseline":"middle","font":"Open Sans","fontSize":17.5,"fill":"#2a2a2a"},"encoding":{"x":{"datum":1976.22,"axis":null},"y":{"datum":-55.6,"axis":null}}},
{"data":{"values":[{}]},"mark":{"type":"rule","color":"#666","strokeWidth":2},"encoding":{"x":{"datum":1975.54,"axis":null},"y":{"datum":108.2,"axis":null},"y2":{"datum":-60}}}
]
}
